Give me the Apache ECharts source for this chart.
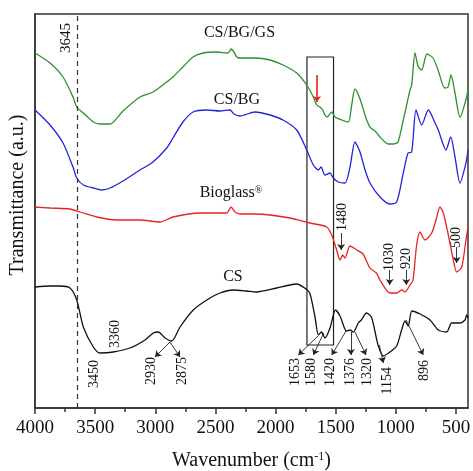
<!DOCTYPE html>
<html>
<head>
<meta charset="utf-8">
<script src="https://cdn.jsdelivr.net/npm/echarts@6/dist/echarts.min.js"></script>
<style>
  html, body { margin: 0; padding: 0; background: #fff; }
  #chart { width: 473px; height: 471px; }
</style>
</head>
<body>
<div id="chart"></div>
<script>
// FTIR spectra, wavenumber (cm-1) vs transmittance (a.u., offset curves)
const gsWave = [4000, 3875, 3767, 3684, 3653, 3598, 3515, 3460, 3376, 3268, 3127, 3019, 2905, 2853, 2770, 2686, 2603, 2487, 2395, 2370, 2346, 2323, 2296, 2171, 2046, 1938, 1824, 1741, 1686, 1658, 1631, 1608, 1589, 1570, 1533, 1506, 1450, 1395, 1367, 1340, 1298, 1248, 1215, 1165, 1132, 1063, 1021, 982, 938, 882, 868, 841, 816, 785, 741, 691, 649, 594, 566, 541, 508, 467, 411, 400];
const gsT = [355, 345, 331, 311, 301, 295, 286, 284, 284, 297, 311, 316, 326, 331, 341, 351, 355, 356, 355, 359, 356, 351, 350, 350, 348, 343, 335, 323, 311, 303, 301, 298, 293, 291, 296, 291, 288, 286, 303, 319, 309, 290, 281, 276, 271, 264, 264, 266, 288, 318, 323, 355, 342, 338, 354, 350, 338, 320, 321, 333, 315, 291, 311, 321];

const bgWave = [4000, 3875, 3767, 3684, 3653, 3598, 3515, 3445, 3376, 3268, 3127, 3019, 2905, 2853, 2770, 2686, 2572, 2462, 2379, 2346, 2296, 2171, 2046, 1938, 1824, 1741, 1686, 1644, 1622, 1589, 1547, 1520, 1478, 1423, 1381, 1340, 1298, 1256, 1215, 1132, 1049, 993, 938, 899, 868, 832, 785, 730, 674, 647, 583, 544, 508, 467, 417, 400];
const bgT = [298, 283, 265, 241, 230, 223, 220, 218, 220, 227, 238, 246, 260, 270, 286, 296, 298, 297, 298, 294, 292, 296, 293, 288, 278, 258, 243, 238, 241, 233, 235, 230, 226, 225, 241, 266, 256, 238, 225, 211, 204, 206, 235, 255, 256, 298, 283, 298, 285, 278, 258, 271, 251, 225, 245, 258];

const bioWave = [4000, 3875, 3709, 3626, 3487, 3321, 3127, 2961, 2853, 2628, 2406, 2370, 2337, 2296, 2171, 2046, 1880, 1714, 1575, 1533, 1492, 1464, 1442, 1423, 1381, 1325, 1273, 1215, 1162, 1132, 1049, 993, 952, 924, 882, 857, 827, 799, 758, 702, 666, 633, 605, 572, 527, 494, 452, 417, 400];
const bioT = [201, 200, 199, 196, 191, 188, 188, 186, 191, 195, 195, 201, 196, 194, 194, 193, 190, 185, 181, 173, 158, 148, 153, 150, 162, 158, 154, 140, 135, 128, 115, 115, 118, 116, 123, 128, 163, 176, 168, 175, 188, 201, 195, 178, 151, 136, 141, 168, 181];

const csWave = [4000, 3875, 3792, 3709, 3653, 3598, 3515, 3460, 3349, 3210, 3085, 3016, 2975, 2919, 2863, 2794, 2684, 2572, 2462, 2351, 2240, 2160, 1991, 1880, 1824, 1758, 1716, 1672, 1644, 1618, 1589, 1547, 1502, 1464, 1410, 1381, 1354, 1312, 1287, 1244, 1204, 1176, 1148, 1104, 1049, 993, 952, 924, 897, 866, 799, 716, 647, 577, 536, 467, 425, 411, 400];
const csT = [121, 122, 122, 120, 108, 81, 61, 55, 56, 60, 68, 75, 76, 70, 67, 81, 98, 108, 115, 118, 117, 116, 120, 123, 124, 120, 115, 91, 73, 76, 70, 80, 98, 92, 77, 78, 76, 85, 88, 95, 91, 78, 63, 52, 56, 62, 78, 87, 82, 97, 94, 88, 78, 76, 85, 85, 88, 93, 90];

const tickMajor = [4000, 3500, 3000, 2500, 2000, 1500, 1000, 500];
const tickMinor = [3750, 3250, 2750, 2250, 1750, 1250, 750];

// rotated peak labels: text, wavenumber, T at the top end of the label
const peakLabels = [
  ['3645', 3742, 385], ['3450', 3509, 48], ['3360', 3335, 88],
  ['2930', 3030, 51], ['2875', 2772, 51],
  ['1653', 1838, 50], ['1580', 1700, 50], ['1420', 1547, 50], ['1376', 1375, 50],
  ['1320', 1237, 50], ['1154', 1071, 41], ['896', 766, 48],
  ['1480', 1448, 205], ['1030', 1051, 165], ['920', 913, 160], ['500', 494, 181]
];
// arrows: from [wavenumber, T] to [wavenumber, T]
const peakArrows = [
  [2878, 66, 3002, 51], [2878, 66, 2794, 51],
  [1647, 72, 1811, 53], [1600, 75, 1686, 53], [1409, 78, 1533, 53],
  [1373, 76, 1373, 53], [1340, 76, 1248, 53], [1137, 63, 1104, 45], [915, 88, 772, 53],
  [1455, 175, 1455, 158], [1051, 138, 1051, 123], [913, 138, 913, 123], [494, 161, 494, 145]
];
const redArrow = [1655, 333, 1655, 306];
const boxCorners = [1739, 351, 1518, 63];
const dashedAt = 3645;

const seriesNames = ['CS/BG/GS', 'CS/BG', 'Bioglass', 'CS'];
const namePos = [[2300, 375], [2321, 308], [2370, 215], [2354, 131]];

const SERIF = '"Liberation Serif", "Times New Roman", serif';
const zip = (a, b) => a.map((w, i) => [w, b[i]]);

const chart = echarts.init(document.getElementById('chart'));

const lineSeries = (name, data, color) => ({
  name, type: 'line', data, showSymbol: false, smooth: 0.25,
  lineStyle: { color, width: 1.3 }, itemStyle: { color }, silent: true
});

const gs = lineSeries(seriesNames[0], zip(gsWave, gsT), '#2f8f2f');
gs.markLine = {
  silent: true, symbol: 'none', label: { show: false },
  lineStyle: { color: '#333', width: 1.2, type: [5, 4] },
  data: [{ xAxis: dashedAt }]
};

const cs = lineSeries(seriesNames[3], zip(csWave, csT), '#111');
cs.markLine = {
  silent: true, symbol: ['none', 'arrow'], symbolSize: 6, label: { show: false },
  lineStyle: { color: '#222', width: 0.9, type: 'solid' },
  data: peakArrows.map(a => [{ coord: [a[0], a[1]] }, { coord: [a[2], a[3]] }]).concat([[
    { coord: [redArrow[0], redArrow[1]], lineStyle: { color: '#e8231f', width: 1.6 } },
    { coord: [redArrow[2], redArrow[3]] }
  ]])
};
cs.markArea = {
  silent: true,
  itemStyle: { color: 'rgba(0,0,0,0)', borderColor: '#222', borderWidth: 1.2 },
  data: [[{ coord: [boxCorners[0], boxCorners[1]] }, { coord: [boxCorners[2], boxCorners[3]] }]]
};

const option = {
  animation: false,
  backgroundColor: '#fff',
  grid: {
    left: 35, right: 5, top: 14, bottom: 63, outerBoundsMode: 'none', containLabel: false,
    show: true, borderColor: '#333', borderWidth: 1.5
  },
  xAxis: [{
    type: 'value', position: 'bottom', inverse: true, min: 400, max: 4000,
    axisLine: { lineStyle: { color: '#333', width: 1.5 } },
    axisTick: { customValues: tickMajor, length: 6, lineStyle: { color: '#333', width: 1.5 } },
    axisLabel: { customValues: tickMajor, formatter: v => String(v), margin: 11, fontSize: 19, fontFamily: SERIF, color: '#111' },
    splitLine: { show: false },
    name: 'Wavenumber (cm{sup|-1})', nameLocation: 'middle', nameGap: 43,
    nameTextStyle: {
      fontSize: 20, fontFamily: SERIF, color: '#111',
      rich: { sup: { fontSize: 12, fontFamily: SERIF, color: '#111', verticalAlign: 'top' } }
    }
  }, {
    type: 'value', position: 'bottom', inverse: true, min: 400, max: 4000,
    axisLine: { show: false },
    axisTick: { customValues: tickMinor, length: 4, lineStyle: { color: '#333', width: 1.5 } },
    axisLabel: { show: false },
    splitLine: { show: false }
  }],
  yAxis: {
    type: 'value', min: 0, max: 394,
    axisLine: { show: true, lineStyle: { color: '#333', width: 1.5 } },
    axisTick: { show: false }, axisLabel: { show: false }, splitLine: { show: false },
    name: 'Transmittance (a.u.)', nameLocation: 'middle', nameGap: 7,
    nameTextStyle: { fontSize: 20, fontFamily: SERIF, color: '#111', padding: [0, 0, 0, 32] }
  },
  series: [
    gs,
    lineSeries(seriesNames[1], zip(bgWave, bgT), '#2323dc'),
    lineSeries(seriesNames[2], zip(bioWave, bioT), '#e8231f'),
    cs
  ]
};
chart.setOption(option);

// text annotations placed through the axes
const px = (w, t) => chart.convertToPixel({ seriesIndex: 0 }, [w, t]);
const graphics = [];
peakLabels.forEach(([txt, w, t]) => {
  const [x, y] = px(w, t);
  graphics.push({
    type: 'text', x, y, rotation: Math.PI / 2, silent: true,
    style: { text: txt, fontSize: txt === '3645' ? 15 : 14, fontFamily: SERIF, fill: '#111', align: 'right', verticalAlign: 'middle' }
  });
});
seriesNames.forEach((n, i) => {
  const [x, y] = px(namePos[i][0], namePos[i][1]);
  graphics.push({
    type: 'text', x, y, silent: true,
    style: {
      text: n === 'Bioglass' ? 'Bioglass{r|®}' : n,
      fontSize: 16, fontFamily: SERIF, fill: '#111', align: 'center', verticalAlign: 'middle',
      rich: { r: { fontSize: 10, fontFamily: SERIF, fill: '#111', verticalAlign: 'top' } }
    }
  });
});
chart.setOption({ graphic: graphics });
</script>
</body>
</html>
